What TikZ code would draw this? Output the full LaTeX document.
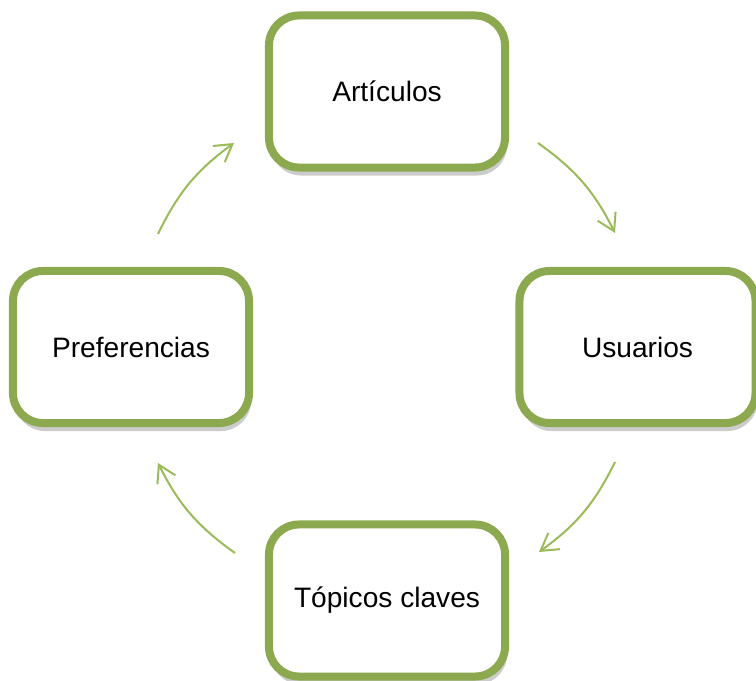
\documentclass[tikz,border=0pt]{standalone}
\usepackage{fontspec}
\setmainfont{Liberation Sans}
\usetikzlibrary{arrows.meta,shadows}

\definecolor{boxgreen}{HTML}{8CA94F}
\definecolor{arrowgreen}{HTML}{9BBB59}

\tikzset{
  stage/.style={draw=boxgreen,line width=0.2cm,fill=white,rounded corners=0.75cm,
    minimum width=5.9cm,minimum height=3.8cm,font=\fontsize{20}{24}\selectfont,
    drop shadow={shadow xshift=0.05cm,shadow yshift=-0.2cm,opacity=0.2,fill=black}},
  cyc/.style={draw=arrowgreen,line width=0.05cm,-{Straight Barb[length=0.42cm,width=0.5cm]}}
}

\begin{document}
\begin{tikzpicture}[x=0.025cm,y=-0.025cm]
\useasboundingbox (0,0) rectangle (756,681);
\node[stage] (art) at (387,91.5) {Artículos};
\node[stage] (usu) at (637.5,347) {Usuarios};
\node[stage] (top) at (387,600.5) {Tópicos claves};
\node[stage] (pref) at (131,347) {Preferencias};
% arc ends
\coordinate (pa) at (158,234);
\coordinate (ap) at (234,143);
\coordinate (au) at (538,143);
\coordinate (ua) at (615,233);
\coordinate (ut) at (615,462);
\coordinate (tu) at (539,552);
\coordinate (tp) at (235,553);
\coordinate (pt) at (158,463);
\draw[cyc] (pa) to[bend left=14] (ap);
\draw[cyc] (au) to[bend left=14] (ua);
\draw[cyc] (ut) to[bend left=14] (tu);
\draw[cyc] (tp) to[bend left=14] (pt);
\end{tikzpicture}
\end{document}
